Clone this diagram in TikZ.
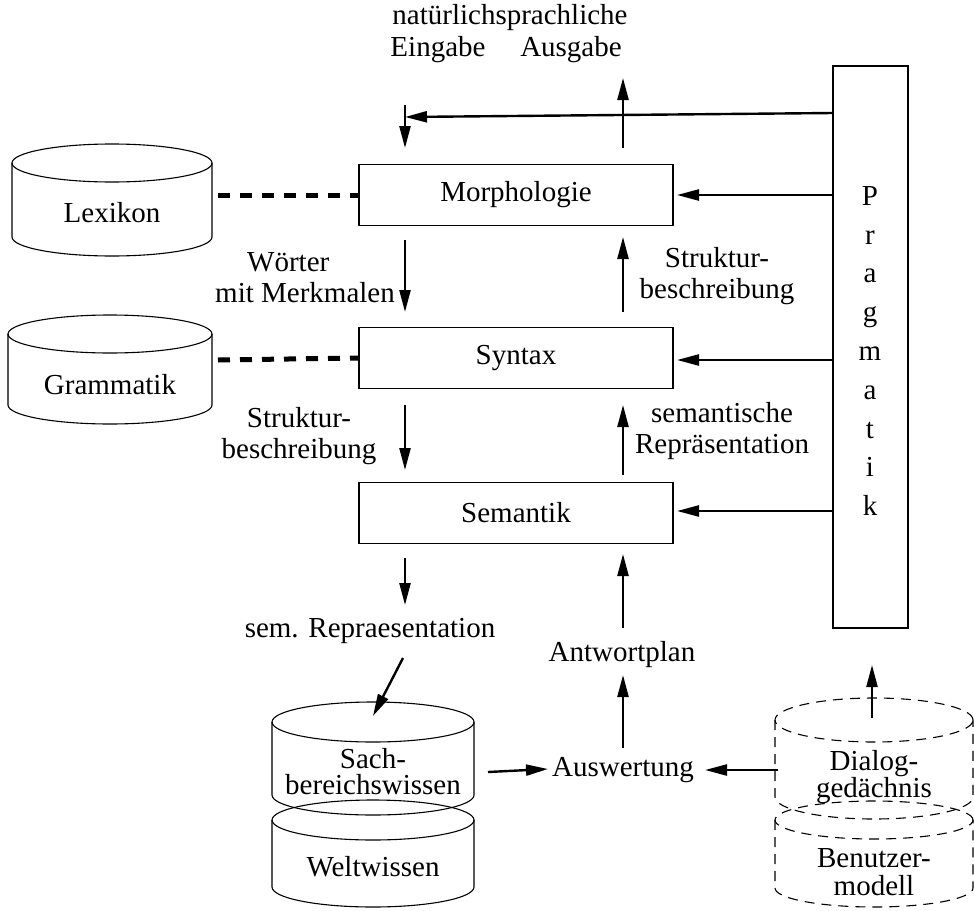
\documentclass[tikz,border=0pt]{standalone}
\usepackage{fontspec}
\setmainfont{Liberation Serif}
\usetikzlibrary{arrows.meta}

\newcommand{\dbdrum}[6][]{% [style]{cx}{y of top ellipse}{y of side end}{rx}{ry}
  \draw[#1] (#2,#3) ellipse [x radius=#5pt, y radius=#6pt];
  \draw[#1] (#2-#5,#3) -- (#2-#5,#4)
    arc[start angle=180, end angle=360, x radius=#5pt, y radius=#6pt]
    -- (#2+#5,#3);
}

\tikzset{
  txt/.style={font=\fontsize{29}{31}\selectfont, inner sep=0pt},
  stage/.style={txt, draw, line width=1.2pt, minimum width=314pt, minimum height=61pt},
  arr/.style={line width=2.4pt, -{Triangle[length=22pt, width=11pt]}},
  link/.style={line width=5pt, dash pattern=on 12pt off 10pt},
  drum/.style={line width=1.1pt},
  ddrum/.style={line width=1.1pt, dash pattern=on 10pt off 7pt},
}

\begin{document}
\begin{tikzpicture}[x=1pt, y=-1pt]
\useasboundingbox (0,0) rectangle (974,910);

% knowledge bases
\dbdrum[drum]{112}{163}{237}{100}{19}
\node[txt] (lex) at (112,213) {Lexikon};
\dbdrum[drum]{110}{334}{405}{102}{19}
\node[txt] (gram) at (110,385) {Grammatik};

\dbdrum[drum]{373}{820}{887}{101}{20}
\node[txt] (welt) at (373,867) {Weltwissen};
\dbdrum[drum]{373}{722}{795}{101}{20}
\node[txt, align=center, font=\fontsize{29}{26}\selectfont] (sach) at (373,772) {Sach-\\bereichswissen};

\dbdrum[ddrum]{874}{820}{888}{99}{19}
\node[txt, align=center, font=\fontsize{29}{28}\selectfont] (benu) at (874,872) {Benutzer-\\modell};
\dbdrum[ddrum]{874}{720}{797}{99}{22}
\node[txt, align=center, font=\fontsize{29}{26}\selectfont] (dial) at (874,777) {Dialog-\\gedächnis};

% processing stages
\node[stage] (morph) at (516,195) {Morphologie};
\node[stage] (syn) at (516,358) {Syntax};
\node[stage] (sem) at (516,513) {Semantik};

\draw[line width=1.2pt] (833,66) rectangle (908,628);
\node[txt, align=center, font=\fontsize{29}{38.8}\selectfont] (prag) at (870,351)
  {P\\r\\a\\g\\m\\a\\t\\i\\k};

% labels
\node[txt] (nat) at (510,18) {natürlichsprachliche};
\node[txt] (ein) at (438,50) {Eingabe};
\node[txt] (aus) at (571,50) {Ausgabe};
\node[txt, align=left, anchor=west] (woe) at (215,278) {\hspace*{32pt}Wörter\\mit Merkmalen};
\node[txt, align=center] (sb1) at (717,276) {Struktur-\\beschreibung};
\node[txt, align=center] (sb2) at (299,436) {Struktur-\\beschreibung};
\node[txt, align=center] (semrep) at (722,431) {semantische\\Repräsentation};
\node[txt] (semr) at (370,631) {sem. Repraesentation};
\node[txt] (plan) at (622,655) {Antwortplan};
\node[txt] (ausw) at (623,770) {Auswertung};

% connector ends
\coordinate (e1) at (405,105);  \coordinate (e2) at (405,148);
\coordinate (a1) at (623,148);  \coordinate (a2) at (623,78);
\coordinate (p0) at (833,113);  \coordinate (p0t) at (405,117);
\coordinate (p1) at (833,195);  \coordinate (p1t) at (677,195);
\coordinate (p2) at (833,360);  \coordinate (p2t) at (677,360);
\coordinate (p3) at (833,511);  \coordinate (p3t) at (677,511);
\coordinate (d1) at (405,240);  \coordinate (d1t) at (405,312);
\coordinate (u1) at (623,312);  \coordinate (u1t) at (623,237);
\coordinate (d2) at (405,405);  \coordinate (d2t) at (405,470);
\coordinate (u2) at (623,475);  \coordinate (u2t) at (623,405);
\coordinate (d3) at (405,558);  \coordinate (d3t) at (405,605);
\coordinate (u3) at (623,628);  \coordinate (u3t) at (623,554);
\coordinate (u4) at (623,748);  \coordinate (u4t) at (623,675);
\coordinate (s1) at (403,658);  \coordinate (s1t) at (373,716);
\coordinate (h1) at (488,772);  \coordinate (h1t) at (548,769);
\coordinate (h2) at (778,770);  \coordinate (h2t) at (705,770);
\coordinate (v1) at (872,718);  \coordinate (v1t) at (872,665);
\coordinate (l1) at (218,195);  \coordinate (l2) at (218,360);

% dashed links to the knowledge bases
\draw[link] (l1) -- (morph.west);
\draw[link] (l2) -- (syn.west);

% arrows
\draw[arr] (e1) -- (e2);
\draw[arr] (a1) -- (a2);
\draw[arr] (p0) -- (p0t);
\draw[arr] (p1) -- (p1t);
\draw[arr] (p2) -- (p2t);
\draw[arr] (p3) -- (p3t);
\draw[arr] (d1) -- (d1t);
\draw[arr] (u1) -- (u1t);
\draw[arr] (d2) -- (d2t);
\draw[arr] (u2) -- (u2t);
\draw[arr] (d3) -- (d3t);
\draw[arr] (u3) -- (u3t);
\draw[arr] (u4) -- (u4t);
\draw[arr] (s1) -- (s1t);
\draw[arr] (h1) -- (h1t);
\draw[arr] (h2) -- (h2t);
\draw[arr] (v1) -- (v1t);
\end{tikzpicture}
\end{document}
